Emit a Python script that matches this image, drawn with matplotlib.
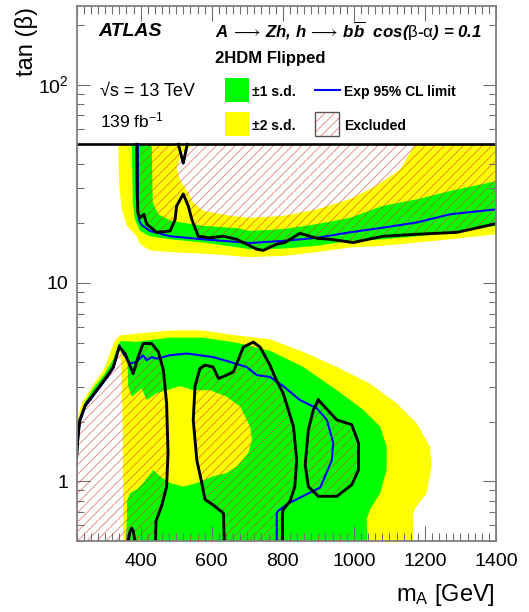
import numpy as np
import matplotlib
matplotlib.use("Agg")
import matplotlib.pyplot as plt
from matplotlib.patches import Polygon, Rectangle
from matplotlib.collections import LineCollection
from matplotlib.transforms import IdentityTransform
from matplotlib.lines import Line2D
import matplotlib.ticker as mticker

plt.rcParams['font.family'] = ['Liberation Sans', 'DejaVu Sans']
plt.rcParams['mathtext.fontset'] = 'custom'
plt.rcParams['mathtext.rm'] = 'Liberation Sans'
plt.rcParams['mathtext.it'] = 'Liberation Sans:italic:bold'
plt.rcParams['mathtext.bf'] = 'Liberation Sans:bold'
plt.rcParams['mathtext.fallback'] = 'stixsans'

# ---------------- data (m_A in GeV, tan(beta)) ----------------
XMIN, XMAX = 220, 1400
TB_MIN, TB_MAX, TB_TOP = 0.5, 250, 50

# ---- upper region (high tan beta) ----
m2lo_up = [337, 338, 340, 347, 361, 389, 398, 426, 483, 594, 708, 802, 896, 989, 1082, 1178, 1271, 1400]
tb2lo_up = [50, 40, 30.8, 23.5, 19.4, 17.2, 15.7, 14.6, 14.3, 14.0, 13.5, 13.7, 14.3, 15.1, 15.4, 16.0, 16.6, 17.6]
m1lo_up = [375, 378, 384, 398, 426, 483, 576, 708, 802, 896, 989, 1082, 1178, 1271, 1400]
tb1lo_up = [50, 25.4, 20.9, 18.3, 17.2, 16.6, 16.0, 14.8, 14.9, 15.4, 16.3, 16.6, 17.2, 18.0, 19.4]
m1hi_up = [431, 434, 450, 483, 576, 670, 708, 802, 896, 989, 1082, 1178, 1271, 1400]
tb1hi_up = [50, 25.4, 22.2, 20.6, 19.4, 18.9, 18.3, 18.7, 19.8, 21.3, 24.5, 26.4, 29.1, 32.6]
m2hi_up = [548, 515, 501, 511, 534, 548, 576, 651, 708, 802, 896, 989, 1054, 1082, 1130, 1158, 1172]
tb2hi_up = [50, 45, 38, 33, 28.5, 25.4, 23.1, 21.8, 21.3, 21.8, 23.5, 26.5, 30.3, 32.6, 37.3, 45.3, 50]
m_exp_up = [392, 392, 393, 395, 398, 403, 426, 483, 576, 708, 802, 896, 989, 1082, 1178, 1271, 1400]
tb_exp_up = [50, 30, 23, 21, 20.2, 19.6, 18.3, 17.2, 16.6, 15.9, 16.3, 16.9, 18.0, 19.0, 20.2, 22.2, 23.5]
m_obs_up = [389, 390, 392, 398, 409, 417, 445, 483, 497, 501, 520, 534, 544, 562, 595, 633, 670, 698,
            727, 745, 783, 806, 848, 896, 933, 998, 1082, 1178, 1290, 1400]
tb_obs_up = [50, 30, 22.6, 21.3, 22.2, 19.8, 18.0, 18.3, 20.9, 24.4, 28.1, 24.4, 20.9, 17.2, 16.9, 17.2, 16.6, 15.7,
             14.8, 14.6, 15.7, 16.0, 17.8, 16.8, 16.6, 16.0, 17.2, 17.6, 18.0, 19.9]
m_notch_up = [506, 520, 531]
tb_notch_up = [50, 40.2, 50]

# ---- lower region (low tan beta) ----
m2lo_lo = [220, 224, 235, 258, 295, 328, 342, 389, 482, 576, 670, 764, 858, 952, 1045, 1121, 1177,
           1214, 1219, 1205, 1177, 1167, 1166]
tb2lo_lo = [1.75, 2.1, 2.5, 2.9, 3.63, 5.14, 5.44, 5.55, 5.76, 5.76, 5.44, 5.2, 4.49, 3.77, 3.11, 2.47, 1.96,
            1.50, 1.19, 0.87, 0.75, 0.69, 0.5]
m1lo_lo = [220, 224, 243, 267, 297, 322, 337, 345, 389, 482, 576, 670, 764, 858, 952, 1027, 1074,
           1092, 1092, 1074, 1045, 1036, 1038]
tb1lo_lo = [1.5, 2.0, 2.5, 2.95, 3.45, 4.1, 4.9, 5.1, 5.05, 5.3, 5.3, 5.0, 4.55, 3.77, 2.88, 2.29, 1.89,
            1.50, 1.14, 0.87, 0.72, 0.64, 0.5]
m_exp_lo = [220, 222, 226, 229, 244, 276, 304, 323, 340, 351, 370, 389, 407, 417, 431, 445, 483, 530,
            604, 651, 698, 727, 764, 801, 848, 895, 924, 942, 938, 919, 905, 867, 820, 787, 783, 783]
tb_exp_lo = [1.24, 1.5, 1.8, 2.0, 2.38, 2.84, 3.3, 3.72, 4.85, 4.41, 3.93, 4.0, 4.32, 4.08, 4.23, 4.15, 4.32, 4.41,
             4.23, 4.0, 3.77, 3.43, 3.36, 3.02, 2.57, 2.34, 2.04, 1.56, 1.28, 1.06, 0.93, 0.86, 0.78, 0.71, 0.69, 0.5]
N_EDGE = 9  # points of the expected limit forming the steep low-mass edge
m1hi_lo = [345, 355, 363, 365, 375, 403, 417, 445, 473, 511, 548, 595, 642, 680, 708, 713, 703, 670, 642,
           604, 558, 520, 483, 454, 436, 407, 389, 370, 362, 360]
tb1hi_lo = [4.6, 4.4, 4.0, 3.02, 2.67, 2.94, 2.57, 2.78, 2.88, 3.02, 2.88, 2.88, 2.67, 2.38, 1.89, 1.62, 1.39,
            1.19, 1.10, 1.06, 0.98, 0.94, 0.98, 1.06, 1.14, 0.98, 0.91, 0.87, 0.8, 0.5]
m2hi_lo = [343, 346, 349, 351]
tb2hi_lo = [4.5, 3.5, 2.0, 0.5]
m_obs1 = [220, 222, 226, 229, 244, 276, 304, 323, 340, 356, 379, 393, 407, 431, 450, 464, 473, 477, 473,
          459, 443, 442]
tb_obs1 = [1.33, 1.55, 1.85, 2.04, 2.42, 2.88, 3.36, 3.77, 4.75, 4.41, 3.49, 4.23, 4.95, 4.95, 4.49, 3.63, 2.47,
           1.39, 0.94, 0.75, 0.63, 0.5]
m_notch_lo = [384, 379, 375, 370, 365]
tb_notch_lo = [0.5, 0.56, 0.58, 0.56, 0.5]
m_obs2 = [635, 633, 604, 581, 572, 558, 548, 553, 567, 581, 604, 619, 642, 661, 689, 717, 736, 764, 783,
          801, 830, 839, 834, 820, 801, 799, 799]
tb_obs2 = [0.5, 0.69, 0.76, 0.81, 0.98, 1.28, 2.04, 3.02, 3.71, 3.85, 3.77, 3.30, 3.43, 3.56, 4.75, 5.03, 4.75,
           3.85, 3.2, 2.78, 1.89, 1.28, 0.94, 0.79, 0.72, 0.69, 0.5]
m_obs3 = [900, 952, 994, 1013, 1013, 994, 952, 900, 872, 863, 872, 886, 900]
tb_obs3 = [2.57, 2.04, 1.93, 1.56, 1.14, 0.96, 0.84, 0.84, 0.94, 1.21, 1.82, 2.29, 2.57]

x_ticks = [400, 600, 800, 1000, 1200, 1400]
y_ticks = [1, 10, 100]
y_tick_labels = ['1', '10', r'$10^{2}$']

# ---------------- figure ----------------
W, H = 529, 612
fig = plt.figure(figsize=(W / 100, H / 100), dpi=100)
ax = fig.add_axes([76.7 / W, 1 - 541 / H, (496 - 76.7) / W, (541 - 5.7) / H])
ax.set_xlim(XMIN, XMAX)
ax.set_yscale('log')
ax.set_ylim(TB_MIN, TB_MAX)

YEL, GRN = '#ffff00', '#00ff00'


def pts(ms, tbs):
    return list(zip(ms, tbs))


def fill(p, color, z):
    patch = Polygon(p, closed=True, facecolor=color, edgecolor='none', zorder=z, transform=ax.transData)
    ax.add_patch(patch)
    return patch


HATCH_SP = 9.5


def hatch_segments():
    return [[(0, c), (W, W + c)] for c in np.arange(-W, H + 1, HATCH_SP)]


def hatch_axes(p):
    clip = Polygon(p, closed=True, facecolor='none', edgecolor='none', transform=ax.transData)
    ax.add_patch(clip)
    lc = LineCollection(hatch_segments(), colors='#d83c3c', linewidths=0.55, alpha=0.7,
                        transform=IdentityTransform(), zorder=1.6)
    lc.set_clip_path(clip)
    ax.add_collection(lc, autolim=False)


# bands, upper
fill(pts(m2lo_up, tb2lo_up) + [(XMAX, TB_TOP)], YEL, 1.0)
fill(pts(m1lo_up, tb1lo_up) + [(XMAX, TB_TOP)], GRN, 1.1)
fill(pts(m1hi_up, tb1hi_up) + [(XMAX, TB_TOP)], YEL, 1.2)
fill(pts(m2hi_up, tb2hi_up), 'white', 1.3)
# bands, lower
edge = pts(m_exp_lo[:N_EDGE], tb_exp_lo[:N_EDGE])
fill([(XMIN, TB_MIN)] + pts(m2lo_lo, tb2lo_lo), YEL, 1.0)
fill([(XMIN, TB_MIN)] + pts(m1lo_lo, tb1lo_lo), GRN, 1.1)
fill([(XMIN, TB_MIN)] + edge + pts(m1hi_lo, tb1hi_lo), YEL, 1.2)
fill([(XMIN, TB_MIN)] + edge + pts(m2hi_lo, tb2hi_lo), 'white', 1.3)

# observed exclusion hatching
hatch_axes(pts(m_obs_up, tb_obs_up) + [(XMAX, TB_TOP)] + pts(m_notch_up[::-1], tb_notch_up[::-1]))
hatch_axes([(XMIN, TB_MIN)] + pts(m_obs1, tb_obs1) + pts(m_notch_lo, tb_notch_lo))
hatch_axes(pts(m_obs2, tb_obs2))
hatch_axes(pts(m_obs3, tb_obs3))

# expected limit
ax.plot(m_exp_up, tb_exp_up, color='#0000ff', lw=1.5, zorder=1.8, solid_joinstyle='round')
ax.plot(m_exp_lo, tb_exp_lo, color='#0000ff', lw=1.5, zorder=1.8, solid_joinstyle='round')
# observed contours
for ms, tbs in [(m_obs_up, tb_obs_up), (m_notch_up, tb_notch_up), (m_obs1, tb_obs1),
                (m_notch_lo, tb_notch_lo), (m_obs2, tb_obs2), (m_obs3, tb_obs3)]:
    ax.plot(ms, tbs, color='black', lw=2.1, zorder=1.9, solid_joinstyle='round')

ax.axhline(TB_TOP, color='black', lw=1.9, zorder=2.2)

# axes styling
ax.xaxis.set_major_locator(mticker.FixedLocator(x_ticks))
ax.xaxis.set_minor_locator(mticker.MultipleLocator(20))
ax.yaxis.set_major_locator(mticker.FixedLocator(y_ticks))
ax.yaxis.set_major_formatter(mticker.FixedFormatter(y_tick_labels))
ax.yaxis.set_minor_locator(mticker.LogLocator(base=10, subs=np.arange(2, 10)))
ax.yaxis.set_minor_formatter(mticker.NullFormatter())
ax.tick_params(which='both', direction='in', top=True, right=True, color='#707070')
ax.tick_params(axis='x', which='major', length=11, width=0.8, pad=9, labelsize=14)
ax.tick_params(axis='x', which='minor', length=5.5, width=0.8)
ax.tick_params(axis='y', which='major', length=9.5, width=0.8, pad=6, labelsize=14)
ax.tick_params(axis='y', which='minor', length=5.2, width=0.8)
for s in ax.spines.values():
    s.set_color('#808080')
    s.set_linewidth(1.3)


def fx(px):
    return px / W


def fy(py):
    return 1 - py / H


fig.text(fx(495), fy(595), r'm$_{\mathrm{A}}$ [GeV]', ha='right', va='center', fontsize=17)
fig.text(fx(27), fy(7), 'tan (β)', rotation=90, ha='center', va='top', fontsize=17)

# labels inside
fig.text(fx(98), fy(32), 'ATLAS', fontsize=14, fontweight='bold', style='italic', va='center')
fig.text(fx(215), fy(31),
         r'$A\,\longrightarrow\,Zh$, $h\,\longrightarrow\,b\overline{b}$  cos($\mathrm{\beta}$-$\mathrm{\alpha}$) = 0.1',
         fontsize=12.2, fontweight='bold', style='italic', va='center')
fig.text(fx(215), fy(58), '2HDM Flipped', fontsize=12, fontweight='bold', va='center')
fig.text(fx(100), fy(92), '√s = 13 TeV', fontsize=13, va='center')
fig.text(fx(100), fy(120), r'139 fb$^{-1}$', fontsize=12.5, va='center')

# legend
fig.add_artist(Rectangle((fx(225), fy(102)), 24 / W, 24 / H, transform=fig.transFigure,
                         facecolor=GRN, edgecolor='none'))
fig.add_artist(Rectangle((fx(225), fy(136)), 24 / W, 24 / H, transform=fig.transFigure,
                         facecolor=YEL, edgecolor='none'))
fig.add_artist(Line2D([fx(315), fx(340)], [fy(90), fy(90)], transform=fig.transFigure,
                      color='#0000ff', lw=1.5))
box = Rectangle((fx(315), fy(136)), 24 / W, 24 / H, transform=fig.transFigure,
                facecolor='white', edgecolor='none')
fig.add_artist(box)
lc = LineCollection(hatch_segments(), colors='#d83c3c', linewidths=0.55, alpha=0.7,
                    transform=IdentityTransform())
lc.set_clip_path(box)
fig.add_artist(lc)
fig.add_artist(Rectangle((fx(315), fy(136)), 24 / W, 24 / H, transform=fig.transFigure,
                         facecolor='none', edgecolor='#555555', lw=1.0))
fig.text(fx(252), fy(92), '±1 s.d.', fontsize=10, fontweight='bold', va='center')
fig.text(fx(252), fy(126), '±2 s.d.', fontsize=10, fontweight='bold', va='center')
fig.text(fx(344), fy(92), 'Exp 95% CL limit', fontsize=10, fontweight='bold', va='center')
fig.text(fx(344), fy(126), 'Excluded', fontsize=10, fontweight='bold', va='center')

fig.savefig('out.png', dpi=100)
